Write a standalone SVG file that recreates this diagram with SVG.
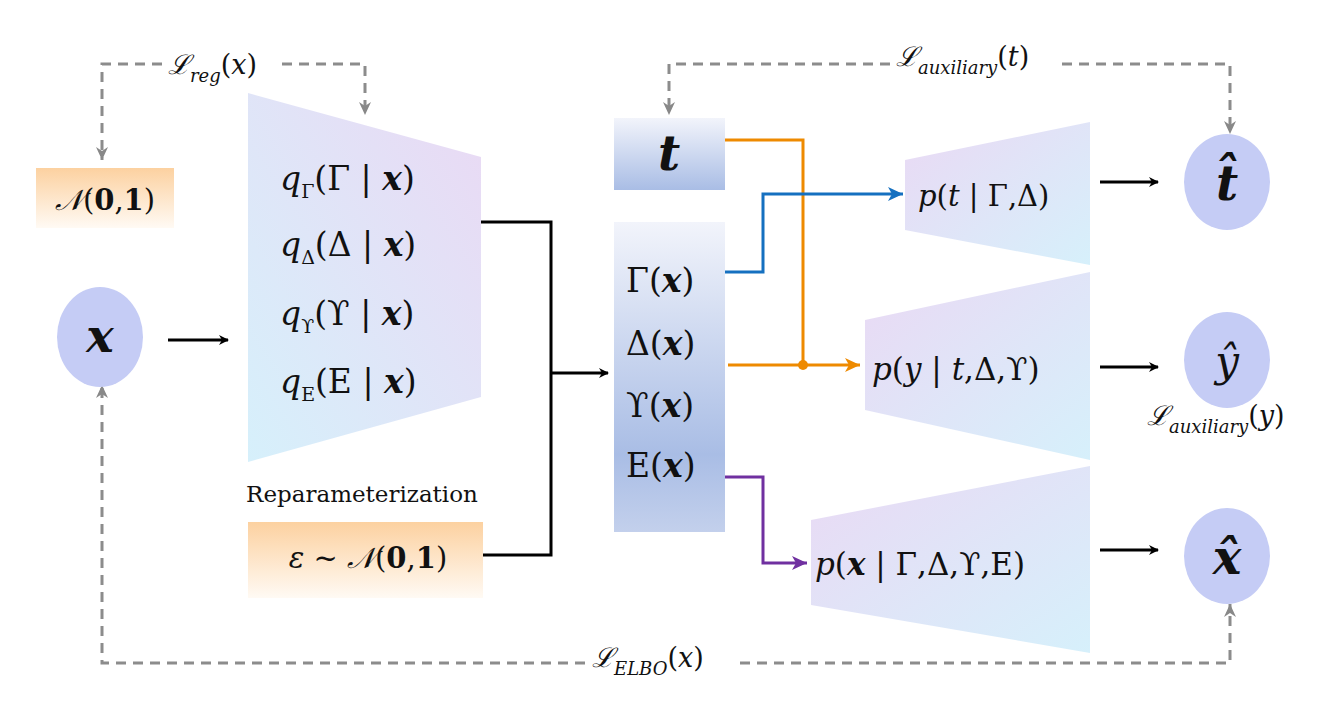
<svg xmlns="http://www.w3.org/2000/svg" width="1339" height="709" viewBox="0 0 1339 709" font-family="'DejaVu Serif', 'Liberation Serif', serif">
<defs>
<linearGradient id="trap" x1="0" y1="1" x2="1" y2="0"><stop offset="0" stop-color="#d6f0fb"/><stop offset="1" stop-color="#ead9f4"/></linearGradient>
<linearGradient id="trapR" x1="0" y1="0" x2="1" y2="1"><stop offset="0" stop-color="#ead9f4"/><stop offset="1" stop-color="#d6f0fb"/></linearGradient>
<linearGradient id="orange" x1="0" y1="0" x2="0" y2="1"><stop offset="0" stop-color="#fcd1a0"/><stop offset="1" stop-color="#fffaf4"/></linearGradient>
<linearGradient id="tbox" x1="0" y1="0" x2="0" y2="1"><stop offset="0" stop-color="#f2f4fb"/><stop offset="1" stop-color="#a9bde5"/></linearGradient>
<linearGradient id="lat" x1="0" y1="0" x2="0" y2="1"><stop offset="0" stop-color="#f2f4fb"/><stop offset="0.75" stop-color="#a9bde5"/><stop offset="1" stop-color="#c3d0ec"/></linearGradient>
<marker id="ab" markerWidth="10" markerHeight="10" refX="9" refY="5" orient="auto" markerUnits="userSpaceOnUse"><path d="M0,0 L10,5 L0,10 L3,5 Z" fill="#000"/></marker>
<marker id="ag" markerWidth="14" markerHeight="14" refX="13" refY="7" orient="auto" markerUnits="userSpaceOnUse"><path d="M0,1 L13,7 L0,13 L4,7 Z" fill="#888"/></marker>
<marker id="ao" markerWidth="16" markerHeight="14" refX="15" refY="7" orient="auto" markerUnits="userSpaceOnUse"><path d="M0,0 L15,7 L0,14 L4,7 Z" fill="#ee8a00"/></marker>
<marker id="abl" markerWidth="16" markerHeight="14" refX="15" refY="7" orient="auto" markerUnits="userSpaceOnUse"><path d="M0,0 L15,7 L0,14 L4,7 Z" fill="#1570c0"/></marker>
<marker id="ap" markerWidth="16" markerHeight="14" refX="15" refY="7" orient="auto" markerUnits="userSpaceOnUse"><path d="M0,0 L15,7 L0,14 L4,7 Z" fill="#7030a0"/></marker>
</defs>
<style>
text{fill:#111}
.m{font-size:33px}
.i{font-style:italic}
.b{font-weight:bold}
.d{fill:none;stroke:#8c8c8c;stroke-width:3;stroke-dasharray:10,7}
.k{fill:none;stroke:#000;stroke-width:3}
.circ{fill:#c5ccf5}
</style>
<rect width="1339" height="709" fill="#fff"/>
<g id="connectors">
<path class="d" d="M162,64 H102 V160" marker-end="url(#ag)"/>
<path class="d" d="M282,64 H365 V115" marker-end="url(#ag)"/>
<path class="d" d="M890,64 H669 V115" marker-end="url(#ag)"/>
<path class="d" d="M1062,64 H1230 V134" marker-end="url(#ag)"/>
<path class="d" d="M585,663 H102 V385" marker-end="url(#ag)"/>
<path class="d" d="M740,663 H1230 V604" marker-end="url(#ag)"/>
<path class="k" d="M168,340 H228" marker-end="url(#ab)"/>
<path class="k" d="M481,222 H551 V555 H483"/>
<path class="k" d="M551,373 H608" marker-end="url(#ab)"/>
<path d="M725,140 H803 V365" fill="none" stroke="#ee8a00" stroke-width="3"/>
<path d="M728,365 H860" fill="none" stroke="#ee8a00" stroke-width="3" marker-end="url(#ao)"/>
<circle cx="803" cy="365" r="5" fill="#ee8a00"/>
<path d="M725,272 H763 V194 H903" fill="none" stroke="#1570c0" stroke-width="3" marker-end="url(#abl)"/>
<path d="M725,477 H763 V563 H807" fill="none" stroke="#7030a0" stroke-width="3" marker-end="url(#ap)"/>
<path class="k" d="M1100,182 H1158" marker-end="url(#ab)"/>
<path class="k" d="M1100,367 H1158" marker-end="url(#ab)"/>
<path class="k" d="M1100,550 H1158" marker-end="url(#ab)"/>
</g>
<g id="loss-labels">
<text x="168" y="74" font-size="27"><tspan class="i">ℒ</tspan><tspan class="i" font-size="18" dy="8">reg</tspan><tspan dy="-8">(</tspan><tspan class="i">x</tspan>)</text>
<text x="896" y="66" font-size="27"><tspan class="i">ℒ</tspan><tspan class="i" font-size="18" dy="8">auxiliary</tspan><tspan dy="-8">(</tspan><tspan class="i">t</tspan>)</text>
<text x="1147" y="425" font-size="27"><tspan class="i">ℒ</tspan><tspan class="i" font-size="18" dy="8">auxiliary</tspan><tspan dy="-8">(</tspan><tspan class="i">y</tspan>)</text>
<text x="592" y="667" font-size="27"><tspan class="i">ℒ</tspan><tspan class="i" font-size="18" dy="8">ELBO</tspan><tspan dy="-8">(</tspan><tspan class="i">x</tspan>)</text>
</g>
<g id="prior"><rect x="36" y="168" width="138" height="60" fill="url(#orange)"/>
<text x="105" y="210" font-size="29" text-anchor="middle"><tspan class="i">𝒩</tspan>(<tspan class="b">0</tspan>,<tspan class="b">1</tspan>)</text></g>
<g id="x-input"><ellipse class="circ" cx="100" cy="337" rx="43" ry="50"/>
<text x="100" y="352" font-size="46" class="i b" text-anchor="middle">x</text></g>
<g id="encoder"><polygon points="248,93 481,157 481,397 248,462" fill="url(#trap)"/>
<text x="280" y="190" class="m"><tspan class="i">q</tspan><tspan font-size="19" dy="8">Γ</tspan><tspan dy="-8">(Γ | </tspan><tspan class="i b">x</tspan>)</text>
<text x="280" y="256" class="m"><tspan class="i">q</tspan><tspan font-size="19" dy="8">Δ</tspan><tspan dy="-8">(Δ | </tspan><tspan class="i b">x</tspan>)</text>
<text x="280" y="325" class="m"><tspan class="i">q</tspan><tspan font-size="19" dy="8">ϒ</tspan><tspan dy="-8">(ϒ | </tspan><tspan class="i b">x</tspan>)</text>
<text x="280" y="393" class="m"><tspan class="i">q</tspan><tspan font-size="19" dy="8">E</tspan><tspan dy="-8">(E | </tspan><tspan class="i b">x</tspan>)</text></g>
<g id="reparam"><text x="362" y="502" font-size="23" text-anchor="middle">Reparameterization</text></g>
<g id="epsilon"><rect x="248" y="522" width="235" height="76" fill="url(#orange)"/>
<text x="368" y="568" font-size="29" text-anchor="middle"><tspan class="i">ε</tspan> ~ <tspan class="i">𝒩</tspan>(<tspan class="b">0</tspan>,<tspan class="b">1</tspan>)</text></g>
<g id="t-box"><rect x="614" y="118" width="111" height="72" fill="url(#tbox)"/>
<text x="669" y="170" font-size="48" class="i b" text-anchor="middle">t</text></g>
<g id="latent"><rect x="614" y="222" width="111" height="310" fill="url(#lat)"/>
<text x="626" y="292" class="m">Γ(<tspan class="i b">x</tspan>)</text>
<text x="626" y="355" class="m">Δ(<tspan class="i b">x</tspan>)</text>
<text x="626" y="417" class="m">ϒ(<tspan class="i b">x</tspan>)</text>
<text x="626" y="477" class="m">E(<tspan class="i b">x</tspan>)</text></g>
<g id="dec-t"><polygon points="905,160 1090,122 1090,265 905,230" fill="url(#trapR)"/>
<text x="918" y="206" font-size="29"><tspan class="i">p</tspan>(<tspan class="i">t</tspan> | Γ,Δ)</text></g>
<g id="dec-y"><polygon points="865,320 1090,272 1090,460 865,410" fill="url(#trapR)"/>
<text x="872" y="380" font-size="31"><tspan class="i">p</tspan>(<tspan class="i">y</tspan> | <tspan class="i">t</tspan>,Δ,ϒ)</text></g>
<g id="dec-x"><polygon points="811,520 1090,466 1090,653 811,605" fill="url(#trapR)"/>
<text x="815" y="575" font-size="31"><tspan class="i">p</tspan>(<tspan class="i b">x</tspan> | Γ,Δ,ϒ,E)</text></g>
<g id="t-hat"><ellipse class="circ" cx="1227" cy="182" rx="43" ry="48"/>
<text x="1227" y="200" font-size="48" class="i b" text-anchor="middle">t̂</text></g>
<g id="y-hat"><ellipse class="circ" cx="1227" cy="360" rx="43" ry="48"/>
<text x="1227" y="376" font-size="42" class="i" text-anchor="middle">ŷ</text></g>
<g id="x-hat"><ellipse class="circ" cx="1227" cy="556" rx="43" ry="48"/>
<text x="1227" y="574" font-size="48" class="i b" text-anchor="middle">x̂</text></g>
</svg>
